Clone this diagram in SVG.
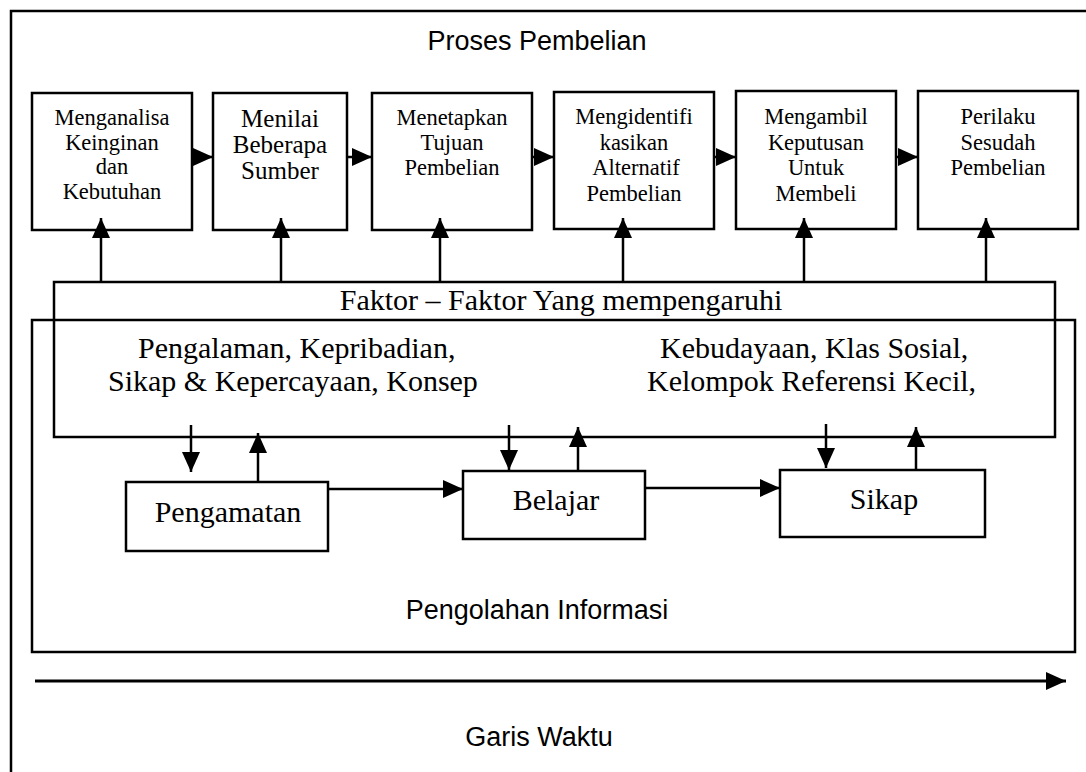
<svg xmlns="http://www.w3.org/2000/svg" width="1086" height="772" viewBox="0 0 1086 772">
<style>
.box{fill:#fff;stroke:#000;stroke-width:2.5}
.frame{fill:none;stroke:#000;stroke-width:2.5}
.ln{fill:none;stroke:#000;stroke-width:2.5}
.ser{font-family:"Liberation Serif","Times New Roman",serif;fill:#000}
.san{font-family:"Liberation Sans",Arial,sans-serif;fill:#000}
.t22{font-size:22.5px;text-anchor:middle}
.t25{font-size:25px;text-anchor:middle}
.t30{font-size:30px}
</style>
<defs>
<marker id="ah" markerUnits="userSpaceOnUse" markerWidth="21" markerHeight="19" refX="20" refY="9" orient="auto" viewBox="0 0 21 19">
<path d="M0,0 L20,9 L0,18 z" fill="#000"/>
</marker>
</defs>
<rect width="1086" height="772" fill="#fff"/>
<path class="frame" d="M11,772 V11 H1086"/>
<text class="san" x="537" y="50" font-size="27" text-anchor="middle">Proses Pembelian</text>

<g id="pengolahan">
<rect class="frame" x="32" y="320" width="1043" height="332"/>
<text class="san" x="537" y="619" font-size="27" text-anchor="middle">Pengolahan Informasi</text>
</g>

<g id="faktor">
<rect class="frame" x="54" y="282" width="1001" height="155"/>
<text class="ser t30" x="561" y="310" text-anchor="middle">Faktor – Faktor Yang mempengaruhi</text>
<text class="ser t30" x="138" y="358">Pengalaman, Kepribadian,</text>
<text class="ser t30" x="108" y="391">Sikap &amp; Kepercayaan, Konsep</text>
<text class="ser t30" x="660" y="358">Kebudayaan, Klas Sosial,</text>
<text class="ser t30" x="647" y="391">Kelompok Referensi Kecil,</text>
</g>

<g id="n1">
<rect class="box" x="32" y="93" width="160" height="137"/>
<text class="ser t22" x="112" y="125">Menganalisa</text>
<text class="ser t22" x="112" y="150">Keinginan</text>
<text class="ser t22" x="112" y="174">dan</text>
<text class="ser t22" x="112" y="199">Kebutuhan</text>
</g>
<g id="n2">
<rect class="box" x="213" y="93" width="134" height="137"/>
<text class="ser t25" x="280" y="127">Menilai</text>
<text class="ser t25" x="280" y="153">Beberapa</text>
<text class="ser t25" x="280" y="179">Sumber</text>
</g>
<g id="n3">
<rect class="box" x="372" y="93" width="160" height="137"/>
<text class="ser t22" x="452" y="125">Menetapkan</text>
<text class="ser t22" x="452" y="150">Tujuan</text>
<text class="ser t22" x="452" y="175">Pembelian</text>
</g>
<g id="n4">
<rect class="box" x="554" y="92" width="160" height="137"/>
<text class="ser t22" x="634" y="124">Mengidentifi</text>
<text class="ser t22" x="634" y="150">kasikan</text>
<text class="ser t22" x="636" y="175">Alternatif</text>
<text class="ser t22" x="634" y="201">Pembelian</text>
</g>
<g id="n5">
<rect class="box" x="736" y="91" width="160" height="138"/>
<text class="ser t22" x="816" y="124">Mengambil</text>
<text class="ser t22" x="816" y="150">Keputusan</text>
<text class="ser t22" x="816" y="175">Untuk</text>
<text class="ser t22" x="816" y="201">Membeli</text>
</g>
<g id="n6">
<rect class="box" x="918" y="91" width="160" height="138"/>
<text class="ser t22" x="998" y="124">Perilaku</text>
<text class="ser t22" x="998" y="150">Sesudah</text>
<text class="ser t22" x="998" y="175">Pembelian</text>
</g>

<g id="pengamatan">
<rect class="box" x="126" y="482" width="202" height="69"/>
<text class="ser t30" x="228" y="522" text-anchor="middle">Pengamatan</text>
</g>
<g id="belajar">
<rect class="box" x="463" y="471" width="182" height="68"/>
<text class="ser t30" x="556" y="510" text-anchor="middle">Belajar</text>
</g>
<g id="sikap">
<rect class="box" x="780" y="470" width="205" height="67"/>
<text class="ser t30" x="884" y="509" text-anchor="middle">Sikap</text>
</g>

<g id="connectors">
<line class="ln" x1="192" y1="157" x2="213" y2="157" marker-end="url(#ah)"/>
<line class="ln" x1="347" y1="157" x2="372" y2="157" marker-end="url(#ah)"/>
<line class="ln" x1="532" y1="157" x2="554" y2="157" marker-end="url(#ah)"/>
<line class="ln" x1="714" y1="157" x2="736" y2="157" marker-end="url(#ah)"/>
<line class="ln" x1="896" y1="157" x2="918" y2="157" marker-end="url(#ah)"/>

<line class="ln" x1="101" y1="282" x2="101" y2="218" marker-end="url(#ah)"/>
<line class="ln" x1="281" y1="282" x2="281" y2="218" marker-end="url(#ah)"/>
<line class="ln" x1="440" y1="282" x2="440" y2="218" marker-end="url(#ah)"/>
<line class="ln" x1="623" y1="282" x2="623" y2="218" marker-end="url(#ah)"/>
<line class="ln" x1="804" y1="282" x2="804" y2="218" marker-end="url(#ah)"/>
<line class="ln" x1="986" y1="282" x2="986" y2="218" marker-end="url(#ah)"/>

<line class="ln" x1="191" y1="425" x2="191" y2="472" marker-end="url(#ah)"/>
<line class="ln" x1="258" y1="482" x2="258" y2="433" marker-end="url(#ah)"/>
<line class="ln" x1="509" y1="425" x2="509" y2="470" marker-end="url(#ah)"/>
<line class="ln" x1="578" y1="471" x2="578" y2="427" marker-end="url(#ah)"/>
<line class="ln" x1="826" y1="424" x2="826" y2="468" marker-end="url(#ah)"/>
<line class="ln" x1="916" y1="470" x2="916" y2="427" marker-end="url(#ah)"/>

<line class="ln" x1="328" y1="489" x2="463" y2="489" marker-end="url(#ah)"/>
<line class="ln" x1="645" y1="488" x2="780" y2="488" marker-end="url(#ah)"/>

<line x1="35" y1="681" x2="1066" y2="681" stroke="#000" stroke-width="3" marker-end="url(#ah)"/>
</g>
<text class="san" x="539" y="746" font-size="27" text-anchor="middle">Garis Waktu</text>
</svg>
